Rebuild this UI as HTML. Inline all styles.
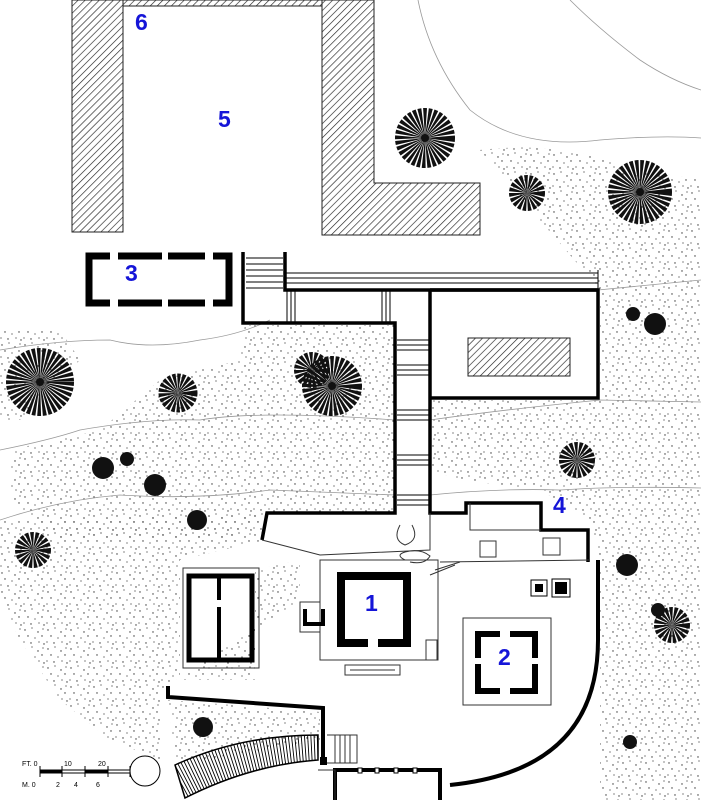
<!DOCTYPE html>
<html><head><meta charset="utf-8"><style>
html,body{margin:0;padding:0;background:#fff;}
svg{display:block}
.n{font-family:"Liberation Sans",sans-serif;font-weight:bold;fill:#1515d8;font-size:23px}
</style></head><body>
<svg width="701" height="800" viewBox="0 0 701 800" xmlns="http://www.w3.org/2000/svg">
<defs>
<pattern id="h" width="5" height="5" patternUnits="userSpaceOnUse" patternTransform="rotate(45)">
<rect width="5" height="5" fill="#fff"/><line x1="0" y1="0" x2="0" y2="5" stroke="#222" stroke-width="1.3"/></pattern>
<pattern id="s" width="23" height="19" patternUnits="userSpaceOnUse">
<g fill="#333">
<circle cx="2" cy="3" r="0.7"/><circle cx="9" cy="1" r="0.6"/><circle cx="15" cy="5" r="0.7"/><circle cx="20" cy="2" r="0.6"/>
<circle cx="5" cy="9" r="0.7"/><circle cx="12" cy="11" r="0.6"/><circle cx="19" cy="9" r="0.7"/><circle cx="1" cy="15" r="0.6"/>
<circle cx="8" cy="16" r="0.7"/><circle cx="16" cy="15" r="0.6"/><circle cx="21" cy="17" r="0.7"/>
</g></pattern>
<clipPath id="cs"><path d="M175 765 Q240 735 318 735 L318 760 Q250 765 185 798 Z"/></clipPath>
</defs>
<rect width="701" height="800" fill="#fff"/>
<g fill="url(#s)">
<path d="M480 150 Q560 140 640 170 L701 180 L701 800 L600 800 L600 560 L590 520 L540 490 L460 480 L430 470 L430 400 L600 400 L600 290 L540 220 Z"/>
<path d="M245 325 L395 325 L395 512 L267 513 L240 540 L60 540 L10 500 L10 450 L100 430 L160 380 L240 360 Z"/>
<path d="M0 520 L265 515 L265 540 L180 560 L180 680 L255 680 L255 570 L300 560 L300 600 L160 690 L160 760 L110 740 L60 700 L20 640 L0 600 Z"/>
<path d="M168 700 L320 712 L320 740 L200 760 L175 760 Z"/>
<path d="M0 330 L60 330 L80 360 L20 420 L0 420 Z"/>
</g>
<g fill="none" stroke="#999" stroke-width="0.8">
<path d="M418 0 Q430 60 470 110 Q520 150 600 140 Q660 135 701 138"/>
<path d="M570 0 Q600 30 640 60 Q670 80 701 90"/>
<path d="M0 350 Q60 340 110 340 Q150 350 200 340 Q240 335 270 320"/>
<path d="M0 450 Q50 440 80 430 Q150 418 200 420 Q260 410 395 420"/>
<path d="M0 520 Q60 500 120 495 Q200 500 270 490 L395 495"/>
<path d="M430 420 Q500 410 600 400 L701 402"/>
<path d="M430 495 Q500 488 560 490 Q620 486 701 488"/>
<path d="M598 290 Q650 285 701 280"/>
</g>
<g fill="url(#h)" stroke="#222" stroke-width="1">
<rect x="72" y="0" width="51" height="232"/>
<rect x="123" y="0" width="199" height="6"/>
<path d="M322 0 L374 0 L374 183 L480 183 L480 235 L322 235 Z"/>
<rect x="468" y="338" width="102" height="38"/>
</g>
<rect x="89" y="256" width="140" height="47" fill="none" stroke="#000" stroke-width="7"/>
<g fill="#fff"><rect x="110" y="250" width="8" height="10"/><rect x="162" y="250" width="6" height="10"/><rect x="205" y="250" width="8" height="10"/>
<rect x="110" y="299" width="8" height="10"/><rect x="162" y="299" width="6" height="10"/><rect x="205" y="299" width="8" height="10"/></g>
<g fill="none" stroke="#000" stroke-width="1">
<line x1="285" y1="273" x2="598" y2="273"/><line x1="285" y1="278" x2="598" y2="278"/><line x1="285" y1="283" x2="598" y2="283"/><line x1="598" y1="270" x2="598" y2="290"/>
<line x1="246" y1="258" x2="283" y2="258"/><line x1="246" y1="264" x2="283" y2="264"/><line x1="246" y1="270" x2="283" y2="270"/><line x1="246" y1="276" x2="283" y2="276"/><line x1="246" y1="282" x2="283" y2="282"/><line x1="246" y1="288" x2="283" y2="288"/>
<line x1="287" y1="290" x2="287" y2="323"/><line x1="291" y1="290" x2="291" y2="323"/><line x1="295" y1="290" x2="295" y2="323"/>
<line x1="382" y1="290" x2="382" y2="323"/><line x1="386" y1="290" x2="386" y2="323"/><line x1="390" y1="290" x2="390" y2="323"/>
<path d="M397 340 H430 M397 345 H430 M397 350 H430 M397 365 H430 M397 370 H430 M397 375 H430 M397 410 H430 M397 415 H430 M397 420 H430 M397 455 H430 M397 460 H430 M397 465 H430 M397 495 H430 M397 500 H430 M397 505 H430"/>
</g>
<g fill="none" stroke="#000" stroke-width="3.5">
<path d="M243 252 V323 H395 V513 H267 L262 540"/>
<path d="M285 252 V290 H598"/>
<path d="M430 290 V513 H466 V503 H541 V530 H588 V562"/>
<path d="M430 290 H598 V398 H430"/>
<path d="M598 560 V640 Q598 770 450 785" stroke-width="4"/>
</g>
<g fill="none" stroke="#333" stroke-width="1">
<path d="M262 540 L320 555 L430 550 L430 513"/>
<path d="M470 503 V530 H541"/>
<path d="M320 560 V660 H438 V560 Z"/>
<path d="M300 602 H320 V632 H300 Z"/>
<path d="M440 562 L590 560"/>
<rect x="480" y="541" width="16" height="16"/><rect x="543" y="538" width="17" height="17"/>
<path d="M345 665 H400 V675 H345 Z M350 670 H395"/>
<path d="M426 640 H437 V660 H426 Z"/>
<path d="M435 570 L460 562 M430 575 L455 565"/>
<rect x="183" y="568" width="76" height="100"/>
<rect x="463" y="618" width="88" height="87"/>
<path d="M400 525 Q392 540 405 545 Q420 540 412 525"/>
<path d="M405 560 Q395 555 405 552 Q420 548 430 556 Q425 565 410 562"/>
</g>
<rect x="341" y="576" width="66" height="67" fill="none" stroke="#000" stroke-width="8"/>
<rect x="368" y="638" width="10" height="10" fill="#fff"/>
<path d="M305 609 V624 H323 V609" fill="none" stroke="#000" stroke-width="4"/>
<rect x="478" y="634" width="57" height="57" fill="none" stroke="#000" stroke-width="6"/>
<g fill="#fff"><rect x="500" y="628" width="10" height="10"/><rect x="500" y="687" width="10" height="10"/><rect x="472" y="658" width="10" height="6"/><rect x="531" y="658" width="10" height="6"/></g>
<rect x="531" y="580" width="16" height="16" fill="#fff" stroke="#000"/><rect x="535" y="584" width="8" height="8"/>
<rect x="552" y="579" width="18" height="18" fill="#fff" stroke="#000"/><rect x="555" y="582" width="12" height="12"/>
<rect x="189" y="576" width="63" height="84" fill="none" stroke="#000" stroke-width="5"/>
<line x1="219" y1="576" x2="219" y2="600" stroke="#000" stroke-width="4"/>
<line x1="219" y1="607" x2="219" y2="660" stroke="#000" stroke-width="4"/>
<path d="M168 686 V697 L323 708 V760" fill="none" stroke="#000" stroke-width="4"/>
<rect x="320" y="757" width="7" height="8"/>
<path d="M335 800 V770 H440 V800" fill="none" stroke="#000" stroke-width="4"/>
<g fill="#fff" stroke="#000"><rect x="358" y="768" width="4" height="5"/><rect x="375" y="768" width="4" height="5"/><rect x="394" y="768" width="4" height="5"/><rect x="413" y="768" width="4" height="5"/></g>
<path d="M327 735 H357 V763 H327 M335 735 V763 M340 735 V763 M345 735 V763 M350 735 V763" fill="none" stroke="#333"/>
<path d="M318 770 H335 V800" fill="none" stroke="#333"/>
<!-- curved stair -->
<g clip-path="url(#cs)">
<path d="M170 790 Q240 748 325 747" fill="none" stroke="#000" stroke-width="40" stroke-dasharray="0.9 2.2"/>
</g>
<path d="M175 765 Q240 735 318 735 L318 760 Q250 765 185 798 Z" fill="none" stroke="#000" stroke-width="1.5"/>
<g stroke="#000" fill="none" stroke-width="1">
<line x1="40" y1="770" x2="130" y2="770"/><line x1="40" y1="773" x2="130" y2="773"/>
<path d="M40 766 V777 M62 766 V777 M85 766 V777 M108 766 V777 M130 766 V777"/>
<circle cx="145" cy="771" r="15"/>
</g>
<rect x="40" y="770" width="22" height="3"/><rect x="85" y="770" width="23" height="3"/>
<g font-family="Liberation Sans,sans-serif" font-size="7" fill="#000">
<text x="22" y="766">FT. 0</text><text x="64" y="766">10</text><text x="98" y="766">20</text>
<text x="22" y="787">M. 0</text><text x="56" y="787">2</text><text x="74" y="787">4</text><text x="96" y="787">6</text>
</g>
<g fill="none" stroke="#111" stroke-dasharray="2 0.9">
<circle cx="425" cy="138" r="15" stroke-width="30"/>
<circle cx="640" cy="192" r="16" stroke-width="32"/>
<circle cx="527" cy="193" r="9" stroke-width="18"/>
<circle cx="40" cy="382" r="17" stroke-width="34"/>
<circle cx="178" cy="393" r="10" stroke-width="19"/>
<circle cx="312" cy="370" r="9" stroke-width="18"/>
<circle cx="332" cy="386" r="15" stroke-width="30"/>
<circle cx="577" cy="460" r="9" stroke-width="18"/>
<circle cx="33" cy="550" r="9" stroke-width="18"/>
<circle cx="672" cy="625" r="9" stroke-width="18"/>
</g>
<g fill="#111">
<circle cx="425" cy="138" r="4"/><circle cx="640" cy="192" r="4"/><circle cx="40" cy="382" r="4"/><circle cx="332" cy="386" r="4"/>
<circle cx="103" cy="468" r="11"/><circle cx="127" cy="459" r="7"/><circle cx="155" cy="485" r="11"/><circle cx="197" cy="520" r="10"/>
<circle cx="633" cy="314" r="7"/><circle cx="655" cy="324" r="11"/><circle cx="203" cy="727" r="10"/><circle cx="630" cy="742" r="7"/>
<circle cx="658" cy="610" r="7"/><circle cx="627" cy="565" r="11"/>
</g>
<text class="n" x="135" y="30">6</text>
<text class="n" x="218" y="127">5</text>
<text class="n" x="125" y="281">3</text>
<text class="n" x="553" y="513">4</text>
<text class="n" x="365" y="611">1</text>
<text class="n" x="498" y="665">2</text>
</svg>
</body></html>
